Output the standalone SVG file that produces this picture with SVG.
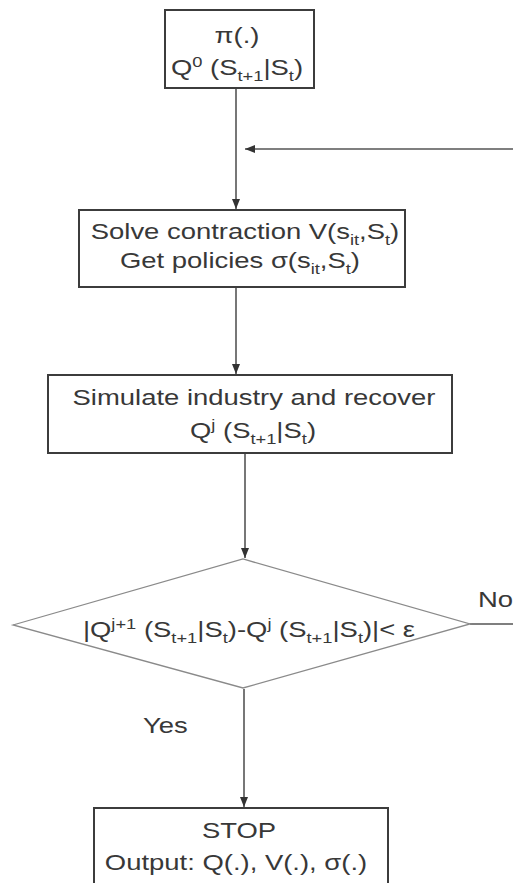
<svg xmlns="http://www.w3.org/2000/svg" width="513" height="883" viewBox="0 0 513 883">
<style>
.box{fill:#fff;stroke:#3c3c3c;stroke-width:2}
.dia{fill:#fff;stroke:#8a8a8a;stroke-width:1.3}
.ln{fill:none;stroke:#555;stroke-width:1.6}
.t{font-family:"Liberation Sans",Arial,sans-serif;font-size:22.5px;fill:#383838;text-anchor:middle}
.l{text-anchor:start}
.s{font-size:15px}
</style>
<defs>
<marker id="ah" viewBox="0 0 10 8" refX="10" refY="4" markerWidth="10" markerHeight="8" markerUnits="userSpaceOnUse" orient="auto">
<path d="M0,0 L10,4 L0,8 Z" fill="#333"/>
</marker>
</defs>
<rect width="513" height="883" fill="#fff"/>
<g id="connectors">
<line class="ln" x1="236" y1="88" x2="236" y2="209" marker-end="url(#ah)"/>
<line class="ln" x1="513" y1="149" x2="245" y2="149" marker-end="url(#ah)"/>
<line class="ln" x1="236" y1="287" x2="236" y2="374" marker-end="url(#ah)"/>
<line class="ln" x1="245" y1="453" x2="245" y2="558" marker-end="url(#ah)"/>
<line class="ln" x1="244" y1="689" x2="244" y2="807" marker-end="url(#ah)"/>
<line class="ln" x1="470" y1="624" x2="513" y2="624"/>
<text class="t l" transform="translate(478,607) scale(1.22,1)" x="0">No</text>
<text class="t l" transform="translate(143,733) scale(1.22,1)" x="0">Yes</text>
</g>
<g id="n1">
<rect class="box" x="165" y="10" width="149" height="78"/>
<text class="t" transform="translate(237,43) scale(1.22,1)" x="0">π(.)</text>
<text class="t" transform="translate(237,75) scale(1.22,1)" x="0">Q<tspan class="s" dy="-8">0</tspan><tspan dy="8"> (S</tspan><tspan class="s" dy="6">t+1</tspan><tspan dy="-6">|S</tspan><tspan class="s" dy="6">t</tspan><tspan dy="-6">)</tspan></text>
</g>
<g id="n2">
<rect class="box" x="79" y="210" width="326" height="77"/>
<text class="t" transform="translate(245,239) scale(1.22,1)" x="0">Solve contraction V(s<tspan class="s" dy="6">it</tspan><tspan dy="-6">,S</tspan><tspan class="s" dy="6">t</tspan><tspan dy="-6">)</tspan></text>
<text class="t" transform="translate(240,268) scale(1.22,1)" x="0">Get policies σ(s<tspan class="s" dy="6">it</tspan><tspan dy="-6">,S</tspan><tspan class="s" dy="6">t</tspan><tspan dy="-6">)</tspan></text>
</g>
<g id="n3">
<rect class="box" x="48" y="375" width="404" height="78"/>
<text class="t" transform="translate(254,405) scale(1.22,1)" x="0">Simulate industry and recover</text>
<text class="t" transform="translate(253,438) scale(1.22,1)" x="0">Q<tspan class="s" dy="-8">j</tspan><tspan dy="8"> (S</tspan><tspan class="s" dy="6">t+1</tspan><tspan dy="-6">|S</tspan><tspan class="s" dy="6">t</tspan><tspan dy="-6">)</tspan></text>
</g>
<g id="n4">
<polygon class="dia" points="13,625 243,559 470,624 243,688"/>
<text class="t" transform="translate(249,637) scale(1.22,1)" x="0">|Q<tspan class="s" dy="-8">j+1</tspan><tspan dy="8"> (S</tspan><tspan class="s" dy="6">t+1</tspan><tspan dy="-6">|S</tspan><tspan class="s" dy="6">t</tspan><tspan dy="-6">)-Q</tspan><tspan class="s" dy="-8">j</tspan><tspan dy="8"> (S</tspan><tspan class="s" dy="6">t+1</tspan><tspan dy="-6">|S</tspan><tspan class="s" dy="6">t</tspan><tspan dy="-6">)|&lt; ε</tspan></text>
</g>
<g id="n5">
<rect class="box" x="94" y="808" width="294" height="90"/>
<text class="t" transform="translate(239,838) scale(1.22,1)" x="0">STOP</text>
<text class="t" transform="translate(236,870) scale(1.22,1)" x="0">Output: Q(.), V(.), σ(.)</text>
</g>
</svg>
